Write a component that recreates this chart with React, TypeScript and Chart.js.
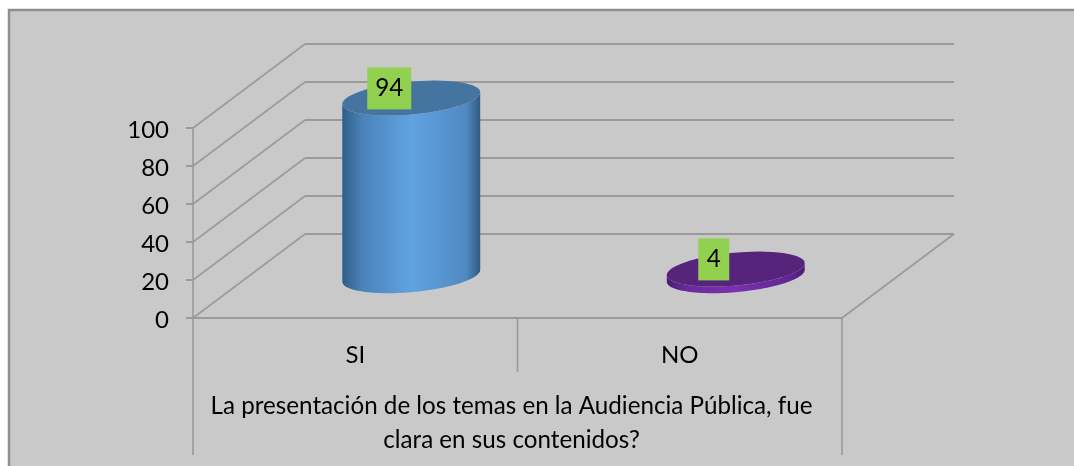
import { useEffect, useRef } from "react";
import { Chart, registerables } from "chart.js";

Chart.register(...registerables);

const categories = ["SI", "NO"];
const seriesValues = [94, 4];
const yTicks = [0, 20, 40, 60, 80, 100];
const axisTitleLines = [
  "La presentación de los temas en la Audiencia Pública, fue",
  "clara en sus contenidos?",
];
const sidePalettes = [
  ["#2f5d88", "#4a82b8", "#60a3e2", "#5089c0", "#2f5a82"],
  ["#4a1c6e", "#6a2a9e", "#7b30ae", "#5f2590", "#4a1c6e"],
];
const sideStops = [0, 0.14, 0.5, 0.9, 1];
const topColors = ["#44749f", "#57247b"];

const FONT = "Lato, Carlito, sans-serif";
const GRID = "#9a9a9a";
const DEPTH_X = 112;
const DEPTH_Y = 84;

function curve(ctx: CanvasRenderingContext2D, cx: number, cy: number, ax: number, bx: number, by: number, from: number, to: number, move: boolean) {
  const n = 60;
  for (let i = 0; i <= n; i++) {
    const t = from + ((to - from) * i) / n;
    const x = cx + ax * Math.cos(t) + bx * Math.sin(t);
    const y = cy + by * Math.sin(t);
    if (i === 0 && move) ctx.moveTo(x, y);
    else ctx.lineTo(x, y);
  }
}

const walls = {
  id: "walls",
  beforeDatasetsDraw(chart: any) {
    const { ctx, chartArea: a, scales } = chart;
    const yS = scales.y;
    ctx.save();
    ctx.strokeStyle = GRID;
    for (const v of yTicks) {
      const y = yS.getPixelForValue(v);
      ctx.lineWidth = 1.6;
      ctx.beginPath();
      ctx.moveTo(a.left, y);
      ctx.lineTo(a.left + DEPTH_X, y - DEPTH_Y);
      ctx.stroke();
      ctx.lineWidth = 2;
      ctx.beginPath();
      ctx.moveTo(a.left + DEPTH_X, y - DEPTH_Y);
      ctx.lineTo(a.right + DEPTH_X, y - DEPTH_Y);
      ctx.stroke();
    }
    const y0 = yS.getPixelForValue(0);
    ctx.lineWidth = 2;
    ctx.beginPath();
    ctx.moveTo(a.left, y0);
    ctx.lineTo(a.right, y0);
    ctx.stroke();
    ctx.lineWidth = 1.6;
    ctx.beginPath();
    ctx.moveTo(a.right, y0);
    ctx.lineTo(a.right + DEPTH_X, y0 - DEPTH_Y);
    ctx.moveTo(a.left, yS.getPixelForValue(100));
    ctx.lineTo(a.left, y0);
    ctx.stroke();
    // category separators of the two-level axis
    const ends = [455, 372, 455];
    const seps = [a.left, (a.left + a.right) / 2, a.right];
    seps.forEach((x, i) => {
      ctx.beginPath();
      ctx.moveTo(x, y0);
      ctx.lineTo(x, ends[i]);
      ctx.stroke();
    });
    ctx.restore();
  },
};

const cylinders = {
  id: "cylinders",
  beforeDatasetDraw(chart: any, args: any) {
    const { ctx } = chart;
    const els = args.meta.data;
    els.forEach((el: any, i: number) => {
      const ax = el.width / 2;
      const by = -17.5;
      const bx = (17.5 * DEPTH_X) / DEPTH_Y;
      const cx = el.x + DEPTH_X / 2;
      const bottom = el.base - DEPTH_Y / 2 + 0.7;
      const top = el.y - DEPTH_Y / 2 + 0.7;
      const t0 = Math.atan2(bx, ax);
      const ext = Math.sqrt(ax * ax + bx * bx);
      const g = ctx.createLinearGradient(cx - ext, 0, cx + ext, 0);
      sidePalettes[i].forEach((c, k) => {
        g.addColorStop(sideStops[k], c);
      });
      ctx.save();
      ctx.fillStyle = g;
      ctx.beginPath();
      curve(ctx, cx, bottom, ax, bx, by, t0, t0 - Math.PI, true);
      curve(ctx, cx, top, ax, bx, by, t0 - Math.PI, t0, false);
      ctx.closePath();
      ctx.fill();
      ctx.fillStyle = topColors[i];
      ctx.beginPath();
      curve(ctx, cx, top, ax, bx, by, 0, Math.PI * 2, true);
      ctx.closePath();
      ctx.fill();
      ctx.restore();
    });
    return false;
  },
};

const overlay = {
  id: "overlay",
  afterDraw(chart: any) {
    const { ctx, chartArea: a } = chart;
    const meta = chart.getDatasetMeta(0);
    ctx.save();
    ctx.font = `24.2px ${FONT}`;
    ctx.textAlign = "center";
    ctx.textBaseline = "middle";
    meta.data.forEach((el: any, i: number) => {
      const text = String(seriesValues[i]);
      const cx = el.x + 34;
      const cy = el.y - DEPTH_Y / 2 - 9;
      const w = i === 0 ? 44 : 31;
      const h = 42;
      ctx.fillStyle = "#92d050";
      ctx.fillRect(cx - w / 2, cy - h / 2, w, h);
      ctx.fillStyle = "#000";
      ctx.fillText(text, cx, cy);
    });
    ctx.fillStyle = "#000";
    axisTitleLines.forEach((line, i) => {
      ctx.fillText(line, (a.left + a.right) / 2 - 6, 406 + i * 34);
    });
    ctx.restore();
  },
};

const pageBackground = {
  id: "pageBackground",
  beforeDraw(chart: any) {
    const { ctx, width, height } = chart;
    ctx.save();
    ctx.fillStyle = "#ffffff";
    ctx.fillRect(0, 0, width, height);
    ctx.fillStyle = "#c9c9c9";
    ctx.strokeStyle = "#8f8f8f";
    ctx.lineWidth = 2.5;
    ctx.fillRect(9, 10, width, height);
    ctx.strokeRect(9, 10, width, height);
    ctx.restore();
  },
};

export default function App() {
  const ref = useRef<HTMLCanvasElement>(null);
  useEffect(() => {
    document.body.style.margin = "0";
    const chart = new Chart(ref.current!, {
      type: "bar",
      data: {
        labels: categories,
        datasets: [{ data: seriesValues, backgroundColor: topColors, barPercentage: 0.4, categoryPercentage: 1 }],
      },
      plugins: [pageBackground, walls, cylinders, overlay],
      options: {
        responsive: false,
        animation: false,
        layout: { padding: { left: 0, right: 232, top: 128, bottom: 0 } },
        plugins: { legend: { display: false }, tooltip: { enabled: false } },
        scales: {
          x: {
            grid: { display: false },
            border: { display: false },
            ticks: { color: "#000", font: { family: FONT, size: 24 }, padding: 15, maxRotation: 0 },
            afterFit(s: any) { s.height = 148; },
          },
          y: {
            min: 0,
            max: 100,
            afterFit(s: any) { s.width = 193; },
            grid: { drawOnChartArea: false, drawTicks: true, tickLength: 7, color: GRID, lineWidth: 2 },
            border: { display: false },
            ticks: { stepSize: 20, color: "#000", font: { family: FONT, size: 24 }, padding: 17, labelOffset: 2 },
          },
        },
      },
    } as any);
    return () => chart.destroy();
  }, []);
  return <canvas ref={ref} width={1074} height={466} style={{ display: "block" }} />;
}
